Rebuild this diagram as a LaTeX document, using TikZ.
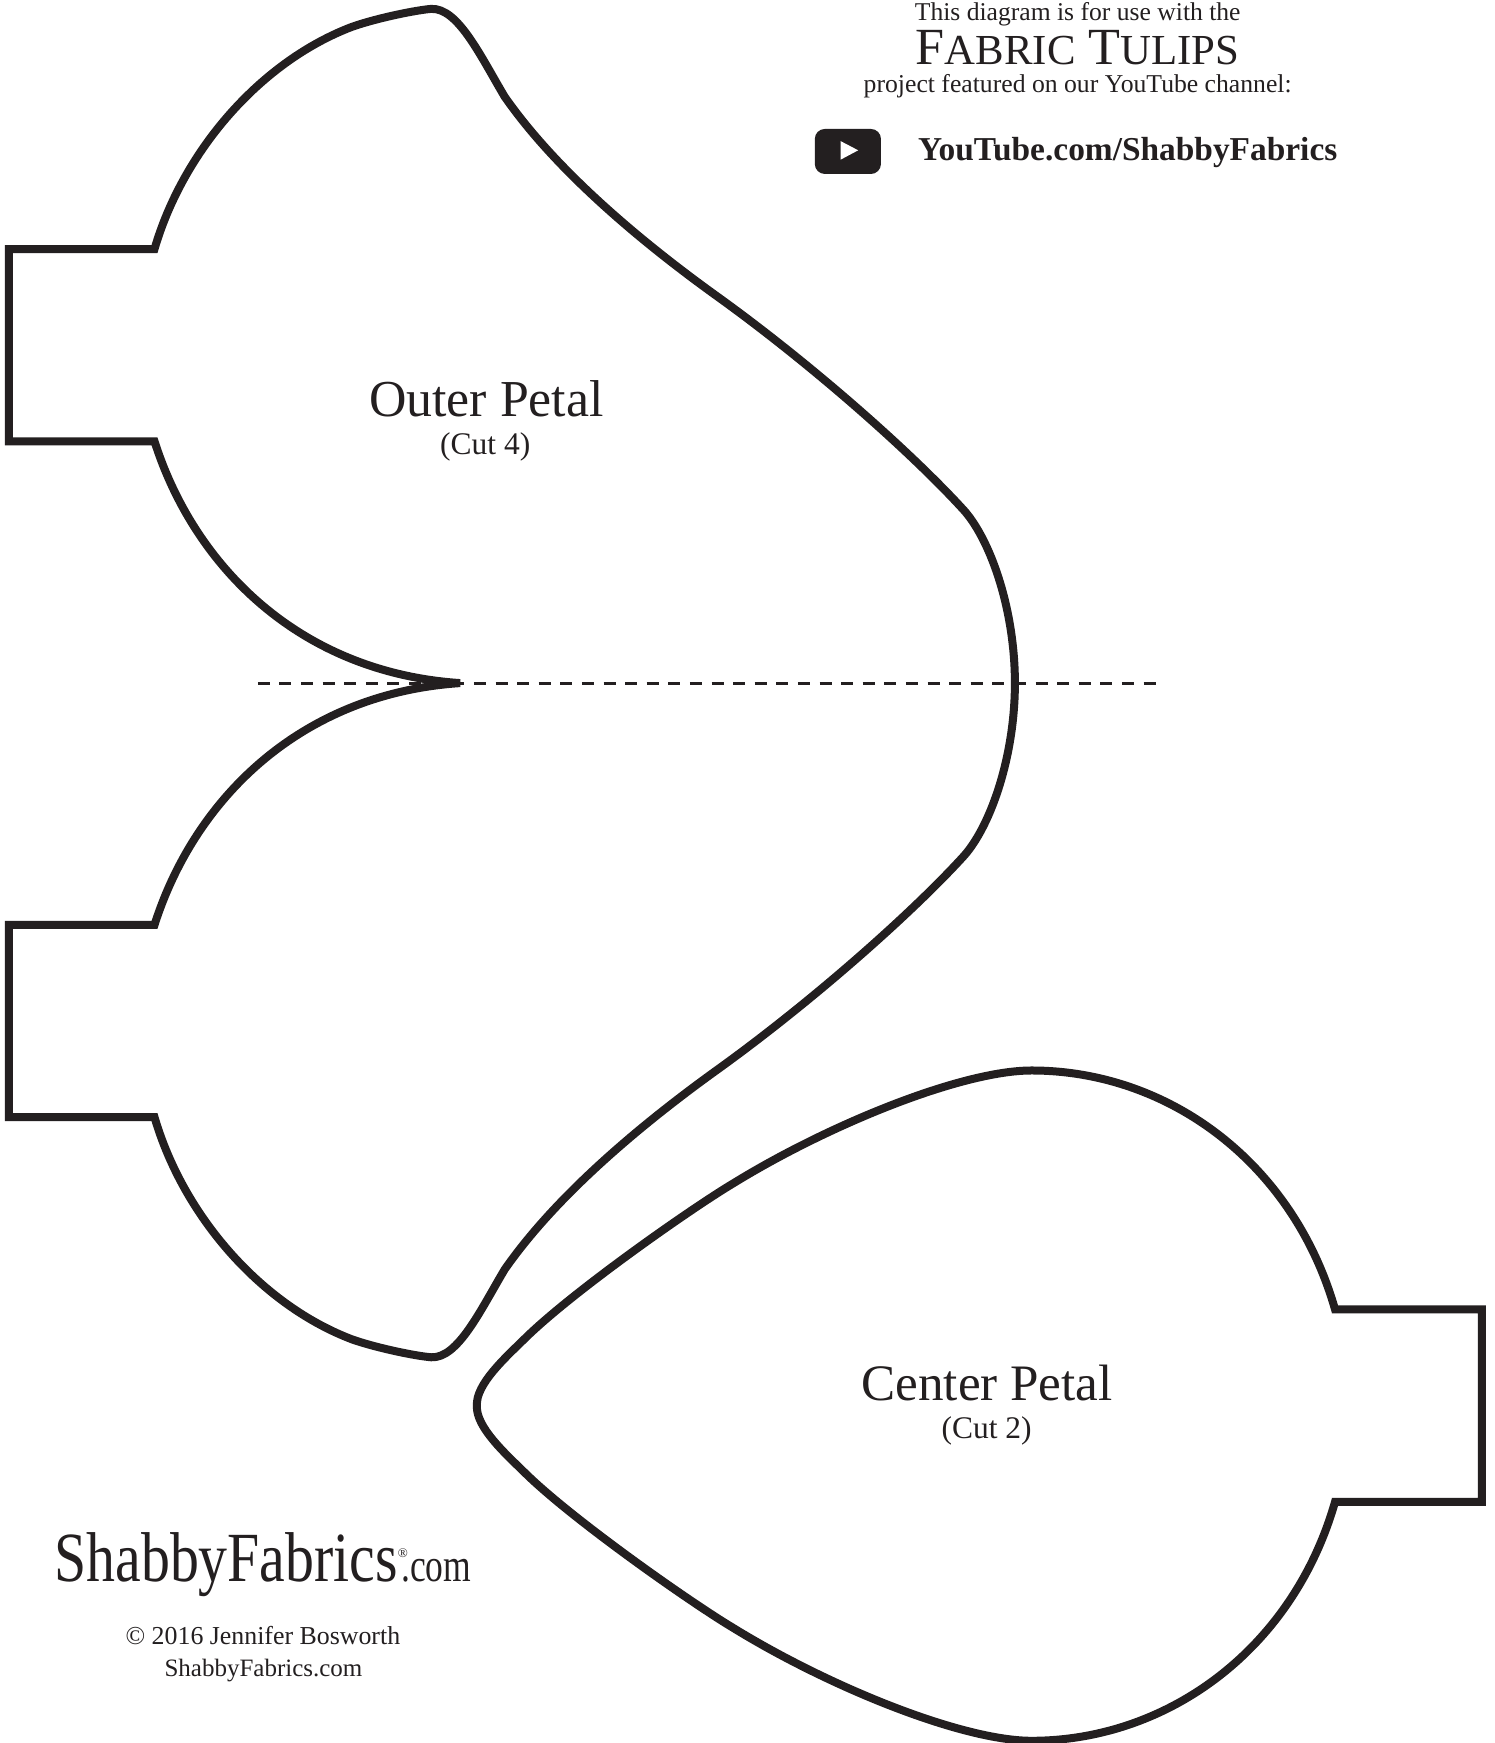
\documentclass[tikz,border=0pt]{standalone}
\usepackage{fontspec}
\setmainfont{Liberation Serif}
\definecolor{ink}{HTML}{231F20}
\newlength{\mypx}\setlength{\mypx}{0.5558pt}
\newcommand{\fitw}[2]{\resizebox{#1\mypx}{!}{#2}}
\newcommand{\fitwh}[3]{\resizebox{#1\mypx}{#2\mypx}{#3}}
\tikzset{
  outline/.style={draw=ink,line width=4pt,line join=miter,miter limit=6},
  foldline/.style={draw=ink,line width=1.5pt,dash pattern=on 6pt off 4.8pt},
  label/.style={inner sep=0pt,outer sep=0pt,anchor=base west,text=ink}
}
\begin{document}
\begin{tikzpicture}[x=0.5558pt,y=-0.5558pt]
\useasboundingbox (0,0) rectangle (1344,1568);
\fill[white] (0,0) rectangle (1344,1568);
% fold line
\coordinate (foldL) at (232,614.5);
\coordinate (foldR) at (1040,614.5);
\draw[foldline] (foldL) -- (foldR);
% outer petal
\draw[outline] (8,224) -- (139,224)
  .. controls (165,135) and (235,55) .. (317,24)
  .. controls (340,16) and (375,9) .. (388,8)
  .. controls (412,7) and (432,50) .. (454,87)
  .. controls (500,153) and (575,216) .. (643.6,265.5)
  .. controls (728,326) and (820,407) .. (868,460)
  .. controls (892,488) and (913,550) .. (913,614.5)
  .. controls (913,679) and (892,741) .. (868,769)
  .. controls (820,822) and (728,903) .. (643.6,963.5)
  .. controls (575,1013) and (500,1076) .. (454,1142)
  .. controls (432,1179) and (412,1222) .. (388,1221)
  .. controls (375,1220) and (340,1213) .. (317,1205)
  .. controls (235,1174) and (165,1094) .. (139,1005)
  -- (8,1005) -- (8,832) -- (139,832)
  .. controls (175,719) and (270,624) .. (414,614.5)
  .. controls (270,605) and (175,510) .. (139,397)
  -- (8,397) -- cycle;
% center petal
\draw[outline] (1333,1178) -- (1201,1178)
  .. controls (1163,1045) and (1050,963) .. (928,963)
  .. controls (865,963) and (745,1012) .. (659.7,1064.5)
  .. controls (622,1087) and (515,1162) .. (472.3,1204)
  .. controls (455,1221) and (428,1245) .. (429,1264.5)
  .. controls (428,1284) and (455,1308) .. (472.3,1325)
  .. controls (515,1367) and (622,1442) .. (659.7,1464.5)
  .. controls (745,1517) and (865,1566) .. (928,1566)
  .. controls (1050,1566) and (1163,1484) .. (1201,1351)
  -- (1333,1351) -- cycle;
% petal labels
\node[label] (outer) at (332,375) {\fitw{211}{Outer Petal}};
\node[label] (cutfour) at (396,409) {\fitw{81}{(Cut 4)}};
\node[label] (center) at (775,1260) {\fitw{226}{Center Petal}};
\node[label] (cuttwo) at (847,1294) {\fitw{81}{(Cut 2)}};
% header
\node[label] (usewith) at (823,18) {\fitw{293}{This diagram is for use with the}};
\node[label] (title) at (824,58) {\fitw{291}{F{\fontsize{8.2}{10}\selectfont ABRIC} T{\fontsize{8.2}{10}\selectfont ULIPS}}};
\node[label] (featured) at (777,83) {\fitw{385}{project featured on our YouTube channel:}};
\fill[ink,rounded corners=5pt] (733,116) rectangle (792.5,156.5);
\fill[white] (756.3,127) -- (772,135.2) -- (756.3,143.6) -- cycle;
\node[label] (ytlink) at (826,144) {\fitw{377}{\bfseries YouTube.com/ShabbyFabrics}};
% logo
\node[label] (logo) at (49,1423) {\fitwh{309}{44}{ShabbyFabrics}};
\node[label] (logoreg) at (358,1401) {\fitw{9}{®}};
\node[label] (logocom) at (361,1423) {\fitwh{63}{20}{.com}};
\node[label] (copy) at (113,1479) {\fitw{247}{© 2016 Jennifer Bosworth}};
\node[label] (site) at (148,1508) {\fitw{178}{ShabbyFabrics.com}};
\end{tikzpicture}
\end{document}
